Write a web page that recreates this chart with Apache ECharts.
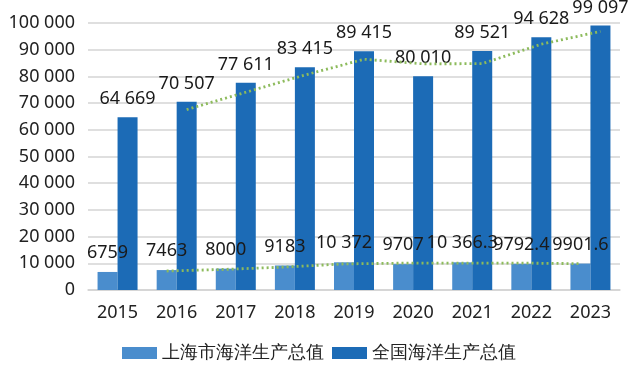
<!DOCTYPE html>
<html>
<head>
<meta charset="utf-8">
<script src="https://cdn.jsdelivr.net/npm/echarts@6/dist/echarts.min.js"></script>
<style>
html,body{margin:0;padding:0;background:#fff;}
#chart{width:638px;height:373px;}
</style>
</head>
<body>
<div id="chart"></div>
<script>
var years = ['2015','2016','2017','2018','2019','2020','2021','2022','2023'];
var shanghaiValues = [6759, 7463, 8000, 9183, 10372, 9707, 10366.3, 9792.4, 9901.6];
var nationalValues = [64669, 70507, 77611, 83415, 89415, 80010, 89521, 94628, 99097];
// 2-period moving-average trend lines (start at 2016)
var shanghaiTrend = [null, 7110, 7730, 8590, 9780, 10040, 10040, 10080, 9850];
var nationalTrend = [null, 67590, 74060, 80510, 86420, 84710, 84770, 92070, 96860];
var yTicks = [0, 10000, 20000, 30000, 40000, 50000, 60000, 70000, 80000, 90000, 100000];
var seriesNames = ['上海市海洋生产总值', '全国海洋生产总值'];

function fmt(v) {
  var parts = String(v).split('.');
  var ip = parts[0];
  if (ip.length > 4) ip = ip.replace(/\B(?=(\d{3})+(?!\d))/g, ' ');
  return parts.length > 1 ? ip + '.' + parts[1] : ip;
}

var FONT = 'Noto Sans';
var gridLeft = 88, gridRight = 18, W = 638;
var barW = 20;
var catW = (W - gridLeft - gridRight) / years.length;
var off = (barW / 2) / catW;

function trendData(arr, shift) {
  var out = [];
  arr.forEach(function (v, i) { if (v != null) out.push([i + shift, v]); });
  return out;
}

var chart = echarts.init(document.getElementById('chart'), null, {renderer: 'canvas'});
chart.setOption({
  animation: false,
  backgroundColor: '#fff',
  grid: {left: gridLeft, right: gridRight, top: 23, bottom: 83, containLabel: false},
  legend: {
    data: seriesNames,
    bottom: 6,
    left: 'center',
    itemWidth: 35,
    itemHeight: 12,
    itemGap: 8,
    icon: 'rect',
    textStyle: {fontFamily: FONT, fontSize: 18, color: '#222'}
  },
  xAxis: [{
    type: 'category',
    data: years,
    axisLine: {lineStyle: {color: '#d4d4d4', width: 1.5}},
    axisTick: {show: false},
    axisLabel: {fontFamily: FONT, fontSize: 18, color: '#222', margin: 14}
  }, {
    type: 'value',
    min: -0.5, max: years.length - 0.5,
    show: false
  }],
  yAxis: {
    type: 'value',
    min: 0, max: 100000, interval: 10000,
    axisLine: {show: false},
    axisTick: {show: false},
    splitLine: {lineStyle: {color: '#d4d4d4', width: 1.5}},
    axisLabel: {
      fontFamily: FONT, fontSize: 18, color: '#222', margin: 13,
      formatter: function (v) { return yTicks.indexOf(v) >= 0 ? fmt(v) : ''; }
    }
  },
  series: [{
    name: seriesNames[0],
    type: 'bar',
    data: shanghaiValues,
    barWidth: barW,
    barGap: '0%',
    itemStyle: {color: '#4a8dcd'},
    label: {show: true, position: 'top', distance: 10, fontFamily: FONT, fontSize: 18, color: '#1a1a1a', formatter: function (p) { return fmt(p.value); }},
    z: 2
  }, {
    name: seriesNames[1],
    type: 'bar',
    data: nationalValues,
    barWidth: barW,
    barGap: '0%',
    itemStyle: {color: '#1c6bb6'},
    label: {show: true, position: 'top', distance: 9, fontFamily: FONT, fontSize: 18, color: '#1a1a1a', formatter: function (p) { return fmt(p.value); }},
    z: 2
  }, {
    name: 'trend1',
    type: 'line',
    xAxisIndex: 1,
    data: trendData(shanghaiTrend, -off),
    symbol: 'none',
    lineStyle: {color: '#8dbb5c', width: 2.8, type: [2, 3]},
    z: 5
  }, {
    name: 'trend2',
    type: 'line',
    xAxisIndex: 1,
    data: trendData(nationalTrend, off),
    symbol: 'none',
    lineStyle: {color: '#8dbb5c', width: 2.8, type: [2, 3]},
    z: 5
  }]
});
</script>
</body>
</html>
